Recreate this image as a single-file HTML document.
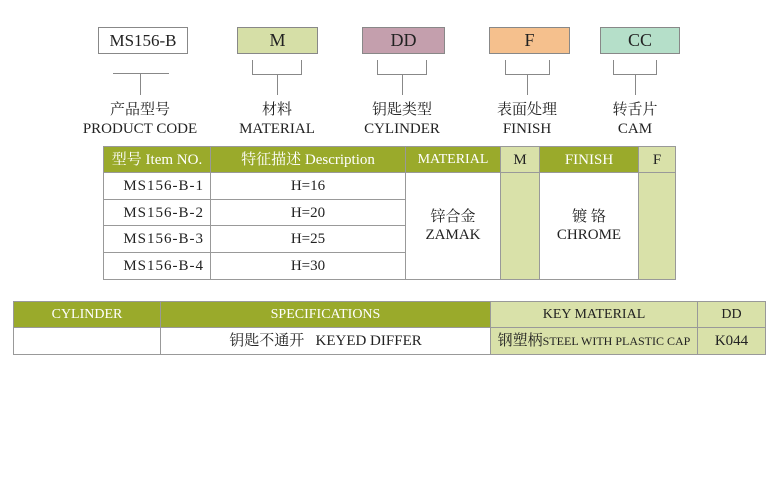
<!DOCTYPE html>
<html><head><meta charset="utf-8"><style>
body{margin:0;width:778px;height:500px;background:#fff;position:relative;font-family:"Liberation Serif","Noto Serif CJK SC",serif;color:#222;overflow:hidden}
.a{position:absolute;box-sizing:border-box}
.bx{border:1px solid #888;text-align:center;font-size:18px;line-height:25px}
.ln{background:#888}
.lb{text-align:center;font-size:15px;line-height:19px}
table{position:absolute;border-collapse:collapse;font-size:14px}
td{border:1px solid #999;text-align:center;vertical-align:middle;padding:0;box-sizing:border-box;line-height:18px}
.g{background:#9aaa2b;color:#fff}
.l{background:#d9e1a9}
.it{letter-spacing:1px;text-align:right;padding-right:6px}
</style></head><body>
<div class="a bx" style="left:98px;top:27px;width:90px;height:27px;font-size:17px">MS156-B</div>
<div class="a bx" style="left:237px;top:27px;width:81px;height:27px;background:#d6dfa7">M</div>
<div class="a bx" style="left:362px;top:27px;width:83px;height:27px;background:#c49fad">DD</div>
<div class="a bx" style="left:489px;top:27px;width:81px;height:27px;background:#f5c08d">F</div>
<div class="a bx" style="left:600px;top:27px;width:80px;height:27px;background:#b5dfc9">CC</div>

<div class="a ln" style="left:113px;top:73px;width:56px;height:1px"></div>
<div class="a ln" style="left:140px;top:73px;width:1px;height:22px"></div>

<div class="a" style="left:252px;top:60px;width:50px;height:15px;border:1px solid #888;border-top:none"></div>
<div class="a ln" style="left:277px;top:75px;width:1px;height:20px"></div>
<div class="a" style="left:377px;top:60px;width:50px;height:15px;border:1px solid #888;border-top:none"></div>
<div class="a ln" style="left:402px;top:75px;width:1px;height:20px"></div>
<div class="a" style="left:505px;top:60px;width:45px;height:15px;border:1px solid #888;border-top:none"></div>
<div class="a ln" style="left:527px;top:75px;width:1px;height:20px"></div>
<div class="a" style="left:613px;top:60px;width:44px;height:15px;border:1px solid #888;border-top:none"></div>
<div class="a ln" style="left:635px;top:75px;width:1px;height:20px"></div>

<div class="a lb" style="left:80px;top:101px;width:120px">产品型号<br>PRODUCT CODE</div>
<div class="a lb" style="left:227px;top:101px;width:100px">材料<br>MATERIAL</div>
<div class="a lb" style="left:352px;top:101px;width:100px">钥匙类型<br>CYLINDER</div>
<div class="a lb" style="left:477px;top:101px;width:100px">表面处理<br>FINISH</div>
<div class="a lb" style="left:590px;top:101px;width:90px">转舌片<br>CAM</div>

<table style="left:103px;top:146px;width:573px">
<tr style="height:26px;font-size:15px"><td class="g" style="width:107px">型号 Item NO.</td><td class="g" style="width:195px">特征描述 Description</td><td class="g" style="width:95px;font-size:14px">MATERIAL</td><td class="l" style="width:39px">M</td><td class="g" style="width:99px">FINISH</td><td class="l">F</td></tr>
<tr style="height:27px;font-size:15px"><td class="it">MS156-B-1</td><td>H=16</td><td rowspan="4" style="font-size:15px">锌合金<br>ZAMAK</td><td rowspan="4" class="l"></td><td rowspan="4" style="font-size:15px">镀 铬<br>CHROME</td><td rowspan="4" class="l"></td></tr>
<tr style="height:26px;font-size:15px"><td class="it">MS156-B-2</td><td>H=20</td></tr>
<tr style="height:27px;font-size:15px"><td class="it">MS156-B-3</td><td>H=25</td></tr>
<tr style="height:27px;font-size:15px"><td class="it">MS156-B-4</td><td>H=30</td></tr>
</table>

<table style="left:13px;top:301px;width:753px">
<tr style="height:26px"><td class="g" style="width:147px">CYLINDER</td><td class="g" style="width:330px">SPECIFICATIONS</td><td class="l" style="width:207px">KEY MATERIAL</td><td class="l">DD</td></tr>
<tr style="height:27px;font-size:15px"><td></td><td>钥匙不通开 &nbsp; KEYED DIFFER</td><td class="l" style="font-size:12px;white-space:nowrap"><span style="font-size:15px">钢塑柄</span>STEEL WITH PLASTIC CAP</td><td class="l">K044</td></tr>
</table>
</body></html>
